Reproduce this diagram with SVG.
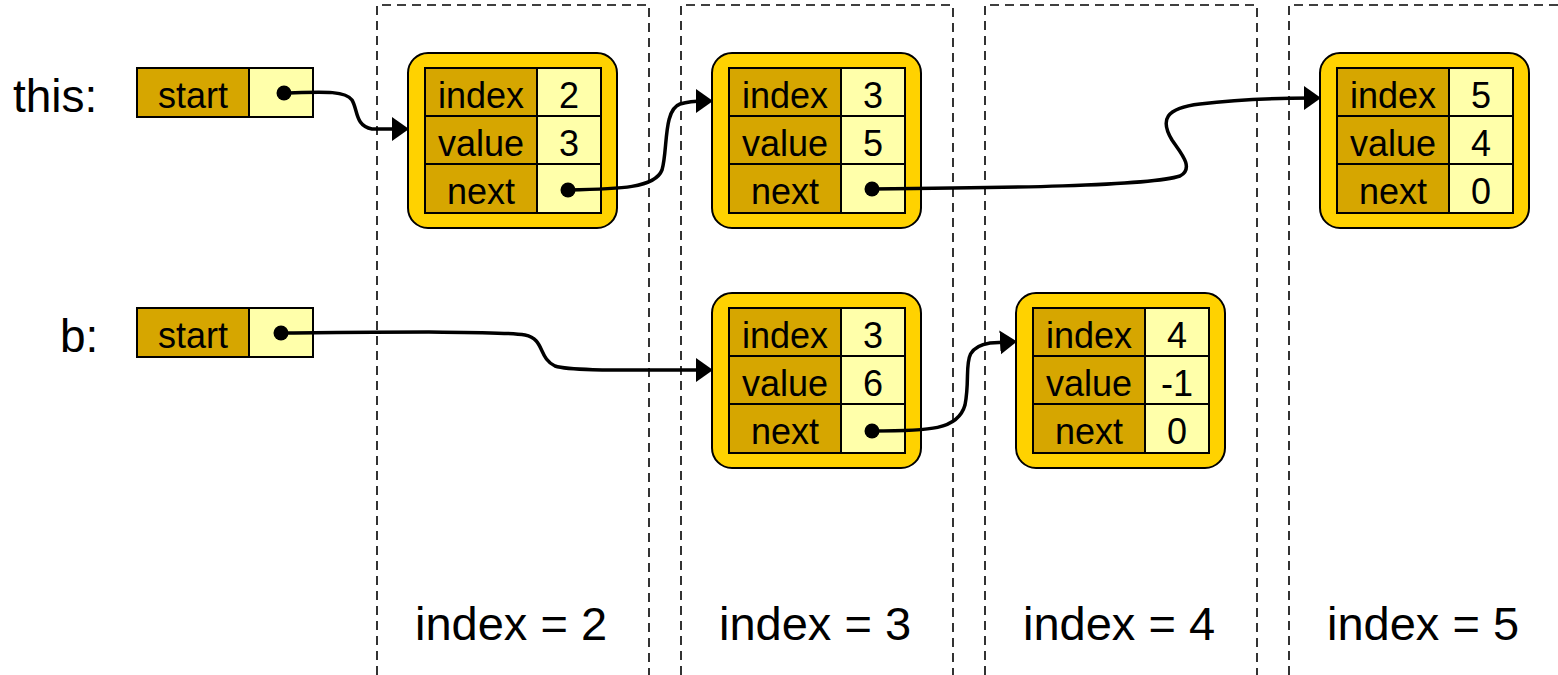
<svg xmlns="http://www.w3.org/2000/svg" width="1558" height="675" viewBox="0 0 1558 675">
<defs>
<style>
text{font-family:"Liberation Sans",Arial,sans-serif;fill:#000}
.big{font-size:46px}
.lbl{font-size:47px;text-anchor:middle}
.cell{font-size:36px;text-anchor:middle}
.outer{fill:#FFD200;stroke:#000;stroke-width:2}
.key{fill:#D6A600;stroke:#000;stroke-width:2}
.val{fill:#FFFFAA;stroke:#000;stroke-width:2}
.dash{fill:none;stroke:#000;stroke-width:1.6;stroke-dasharray:9 6}
.conn{fill:none;stroke:#000;stroke-width:3.5}
</style>
<marker id="arr" markerUnits="userSpaceOnUse" markerWidth="20" markerHeight="26" refX="8" refY="12" orient="auto">
<path d="M0,0 L17,12 L0,24 z" fill="#000"/>
</marker>
</defs>
<rect width="1558" height="675" fill="#fff"/>
<g id="columns">
<path class="dash" d="M377,675 V5 H649 V675"/>
<path class="dash" d="M681,675 V5 H953 V675"/>
<path class="dash" d="M985,675 V5 H1257 V675"/>
<path class="dash" d="M1289,675 V5 H1560"/>
<text class="lbl" x="511" y="640">index = 2</text>
<text class="lbl" x="815" y="640">index = 3</text>
<text class="lbl" x="1119" y="640">index = 4</text>
<text class="lbl" x="1423" y="640">index = 5</text>
</g>
<g id="this-start">
<text class="big" x="13" y="112">this:</text>
<rect class="key" x="137" y="68" width="112" height="49"/>
<rect class="val" x="249" y="68" width="64" height="49"/>
<text class="cell" x="193" y="108">start</text>
<circle cx="284" cy="93" r="7.5"/>
</g>
<g id="b-start">
<text class="big" x="60" y="352">b:</text>
<rect class="key" x="137" y="308" width="112" height="49"/>
<rect class="val" x="249" y="308" width="64" height="49"/>
<text class="cell" x="193" y="348">start</text>
<circle cx="281" cy="333" r="7.5"/>
</g>
<g id="node1" transform="translate(408,53)">
<rect class="outer" x="0" y="0" width="209" height="175" rx="20"/>
<rect class="key" x="17" y="15" width="112" height="48"/><rect class="val" x="129" y="15" width="64" height="48"/>
<rect class="key" x="17" y="63" width="112" height="48"/><rect class="val" x="129" y="63" width="64" height="48"/>
<rect class="key" x="17" y="111" width="112" height="49"/><rect class="val" x="129" y="111" width="64" height="49"/>
<text class="cell" x="73" y="55">index</text><text class="cell" x="161" y="55">2</text>
<text class="cell" x="73" y="103">value</text><text class="cell" x="161" y="103">3</text>
<text class="cell" x="73" y="151">next</text><circle cx="160" cy="137" r="7.5"/>
</g>
<g id="node2" transform="translate(712,53)">
<rect class="outer" x="0" y="0" width="209" height="175" rx="20"/>
<rect class="key" x="17" y="15" width="112" height="48"/><rect class="val" x="129" y="15" width="64" height="48"/>
<rect class="key" x="17" y="63" width="112" height="48"/><rect class="val" x="129" y="63" width="64" height="48"/>
<rect class="key" x="17" y="111" width="112" height="49"/><rect class="val" x="129" y="111" width="64" height="49"/>
<text class="cell" x="73" y="55">index</text><text class="cell" x="161" y="55">3</text>
<text class="cell" x="73" y="103">value</text><text class="cell" x="161" y="103">5</text>
<text class="cell" x="73" y="151">next</text><circle cx="160" cy="136" r="7.5"/>
</g>
<g id="node3" transform="translate(1320,53)">
<rect class="outer" x="0" y="0" width="209" height="175" rx="20"/>
<rect class="key" x="17" y="15" width="112" height="48"/><rect class="val" x="129" y="15" width="64" height="48"/>
<rect class="key" x="17" y="63" width="112" height="48"/><rect class="val" x="129" y="63" width="64" height="48"/>
<rect class="key" x="17" y="111" width="112" height="49"/><rect class="val" x="129" y="111" width="64" height="49"/>
<text class="cell" x="73" y="55">index</text><text class="cell" x="161" y="55">5</text>
<text class="cell" x="73" y="103">value</text><text class="cell" x="161" y="103">4</text>
<text class="cell" x="73" y="151">next</text><text class="cell" x="161" y="151">0</text>
</g>
<g id="node4" transform="translate(712,293)">
<rect class="outer" x="0" y="0" width="209" height="175" rx="20"/>
<rect class="key" x="17" y="15" width="112" height="48"/><rect class="val" x="129" y="15" width="64" height="48"/>
<rect class="key" x="17" y="63" width="112" height="48"/><rect class="val" x="129" y="63" width="64" height="48"/>
<rect class="key" x="17" y="111" width="112" height="49"/><rect class="val" x="129" y="111" width="64" height="49"/>
<text class="cell" x="73" y="55">index</text><text class="cell" x="161" y="55">3</text>
<text class="cell" x="73" y="103">value</text><text class="cell" x="161" y="103">6</text>
<text class="cell" x="73" y="151">next</text><circle cx="160" cy="138" r="7.5"/>
</g>
<g id="node5" transform="translate(1016,293)">
<rect class="outer" x="0" y="0" width="209" height="175" rx="20"/>
<rect class="key" x="17" y="15" width="112" height="48"/><rect class="val" x="129" y="15" width="64" height="48"/>
<rect class="key" x="17" y="63" width="112" height="48"/><rect class="val" x="129" y="63" width="64" height="48"/>
<rect class="key" x="17" y="111" width="112" height="49"/><rect class="val" x="129" y="111" width="64" height="49"/>
<text class="cell" x="73" y="55">index</text><text class="cell" x="161" y="55">4</text>
<text class="cell" x="73" y="103">value</text><text class="cell" x="161" y="103">-1</text>
<text class="cell" x="73" y="151">next</text><text class="cell" x="161" y="151">0</text>
</g>
<g id="connectors">
<path class="conn" marker-end="url(#arr)" d="M284,93 C320,92 345,90 352,100 C358,110 355,126 372,129 L400,129"/>
<path class="conn" marker-end="url(#arr)" d="M568,190 C620,189 655,188 662,170 C668,150 663,110 680,104 C690,101 697,101 704,101"/>
<path class="conn" marker-end="url(#arr)" d="M872,189 C1000,188 1150,186 1180,176 C1195,168 1180,152 1172,140 C1160,120 1165,108 1200,104 C1240,99 1280,98 1312,98"/>
<path class="conn" marker-end="url(#arr)" d="M281,333 C400,332 500,331 525,335 C545,339 538,358 555,366 C570,371 620,370 704,370"/>
<path class="conn" marker-end="url(#arr)" d="M872,431 C930,431 958,430 965,405 C972,370 958,348 990,343 L1008,342"/>
</g>
</svg>
